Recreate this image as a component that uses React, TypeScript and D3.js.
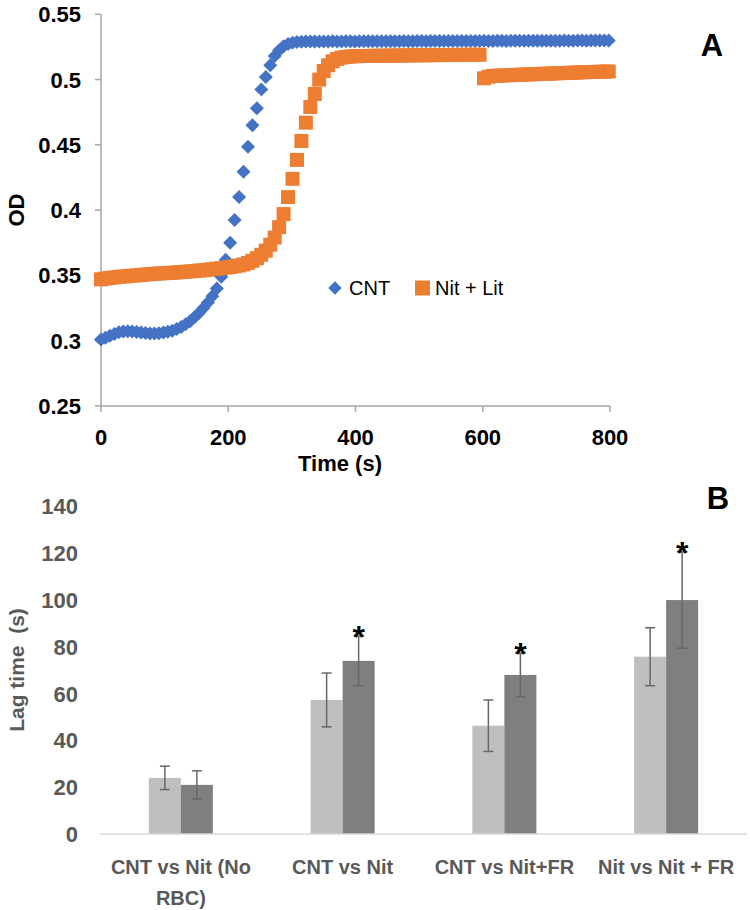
import React from "react";
import * as d3 from "d3";

// ---------- Panel A data ----------
const timeStep = 7;
const times: number[] = d3.range(0, 800, timeStep);
const cntOD: number[] = [
  0.3010, 0.3022, 0.3038, 0.3052, 0.3064, 0.3071, 0.3072, 0.3070, 0.3067, 0.3063,
  0.3059, 0.3056, 0.3056, 0.3058, 0.3062, 0.3068, 0.3077, 0.3090, 0.3106, 0.3126,
  0.3150, 0.3180, 0.3213, 0.3250, 0.3292, 0.3340, 0.3400, 0.3490, 0.3620, 0.3750,
  0.3925, 0.4100, 0.4295, 0.4485, 0.4650, 0.4780, 0.4925, 0.5020, 0.5110, 0.5180,
  0.5225, 0.5255, 0.5272, 0.5282, 0.5287, 0.5290, 0.5291, 0.5291, 0.5292, 0.5291,
  0.5292, 0.5292, 0.5293, 0.5292, 0.5292, 0.5293, 0.5293, 0.5292, 0.5293, 0.5293,
  0.5294, 0.5293, 0.5293, 0.5294, 0.5294, 0.5293, 0.5294, 0.5294, 0.5295, 0.5294,
  0.5294, 0.5295, 0.5295, 0.5294, 0.5295, 0.5295, 0.5295, 0.5296, 0.5295, 0.5295,
  0.5296, 0.5296, 0.5295, 0.5296, 0.5296, 0.5296, 0.5297, 0.5296, 0.5296, 0.5297,
  0.5297, 0.5296, 0.5297, 0.5297, 0.5297, 0.5298, 0.5297, 0.5297, 0.5298, 0.5298,
  0.5297, 0.5298, 0.5298, 0.5298, 0.5299, 0.5298, 0.5298, 0.5299, 0.5299, 0.5298,
  0.5299, 0.5299, 0.5300, 0.5299, 0.5300,
];
const nitLitOD: number[] = [
  0.3470, 0.3476, 0.3481, 0.3485, 0.3489, 0.3492, 0.3495, 0.3498, 0.3501, 0.3504,
  0.3507, 0.3510, 0.3512, 0.3515, 0.3517, 0.3519, 0.3521, 0.3523, 0.3526, 0.3528,
  0.3531, 0.3534, 0.3537, 0.3540, 0.3544, 0.3548, 0.3552, 0.3556, 0.3560, 0.3565,
  0.3570, 0.3576, 0.3584, 0.3596, 0.3612, 0.3632, 0.3658, 0.3690, 0.3735, 0.3790,
  0.3870, 0.3970, 0.4100, 0.4240, 0.4385, 0.4530, 0.4670, 0.4790, 0.4890, 0.5000,
  0.5065, 0.5110, 0.5140, 0.5158, 0.5168, 0.5174, 0.5177, 0.5179, 0.5180, 0.5181,
  0.5181, 0.5182, 0.5182, 0.5183, 0.5183, 0.5184, 0.5184, 0.5184, 0.5185, 0.5185,
  0.5186, 0.5186, 0.5186, 0.5187, 0.5187, 0.5187, 0.5188, 0.5188, 0.5188, 0.5189,
  0.5189, 0.5189, 0.5190, 0.5190, 0.5190, 0.5190,
  0.5010, 0.5022, 0.5028, 0.5030, 0.5031, 0.5033, 0.5034, 0.5036, 0.5037, 0.5038,
  0.5040, 0.5041, 0.5042, 0.5044, 0.5045, 0.5046, 0.5048, 0.5049, 0.5050, 0.5052,
  0.5053, 0.5054, 0.5056, 0.5057, 0.5058, 0.5059, 0.5060, 0.5061, 0.5062,
];
const odTicks: number[] = [0.25, 0.3, 0.35, 0.4, 0.45, 0.5, 0.55];
const timeTicks: number[] = [0, 200, 400, 600, 800];
const seriesNames: string[] = ["CNT", "Nit + Lit"];

// ---------- Panel B data ----------
const categories: string[] = ["CNT vs Nit (No RBC)", "CNT vs Nit", "CNT vs Nit+FR", "Nit vs Nit + FR"];
const categoryLines: string[][] = [["CNT vs Nit (No", "RBC)"], ["CNT vs Nit"], ["CNT vs Nit+FR"], ["Nit vs Nit + FR"]];
const lightValues: number[] = [24, 57.3, 46.3, 75.8];
const lightErrors: number[] = [5, 11.5, 11, 12.4];
const darkValues: number[] = [21, 74, 68, 100];
const darkErrors: number[] = [6, 10.6, 9.3, 20.6];
const significant: boolean[] = [false, true, true, true];
const lagTicks: number[] = [0, 20, 40, 60, 80, 100, 120, 140];

const FONT = "'Liberation Sans', Arial, sans-serif";
const BLUE = "#4472C4";
const ORANGE = "#ED7D31";

export default function App() {
  // Panel A scales
  const xA = d3.scaleLinear().domain([0, 800]).range([101, 610]);
  const yA = d3.scaleLinear().domain([0.25, 0.55]).range([406, 14.3]);
  const diamond = d3.symbol().type(d3.symbolSquare).size(98)();
  const square = d3.symbol().type(d3.symbolSquare).size(196)();
  const legendSquare = d3.symbol().type(d3.symbolSquare).size(225)();
  const legendDiamond = d3.symbol().type(d3.symbolSquare).size(90)();

  // Panel B scales
  const yB = d3.scaleLinear().domain([0, 140]).range([834, 506.5]);
  const x0 = d3.scaleBand<string>().domain(categories).range([100, 747]).padding(0);
  const groupW = x0.bandwidth() * 0.3957;
  const x1 = d3.scaleBand<string>().domain(["light", "dark"]).range([0, groupW]).padding(0);

  const axisGray = "#a6a6a6";

  const barSeries = [
    { key: "light", values: lightValues, errors: lightErrors, color: "#BFBFBF" },
    { key: "dark", values: darkValues, errors: darkErrors, color: "#7F7F7F" },
  ];

  return (
    <svg width={750} height={910} style={{ position: "absolute", left: 0, top: 0, background: "#fff" }} fontFamily={FONT}>
      <rect x={0} y={0} width={750} height={910} fill="#fff" />
      {/* ---------------- Panel A ---------------- */}
      <line x1={xA(0)} x2={xA(0)} y1={yA(0.55)} y2={yA(0.25)} stroke={axisGray} strokeWidth={1.5} />
      <line x1={xA(0)} x2={xA(800)} y1={yA(0.25)} y2={yA(0.25)} stroke={axisGray} strokeWidth={1.5} />
      {odTicks.map((t) => (
        <g key={"yt" + t}>
          <line x1={xA(0) - 6} x2={xA(0)} y1={yA(t)} y2={yA(t)} stroke={axisGray} strokeWidth={1.5} />
          <text x={81} y={yA(t)} dy="0.36em" textAnchor="end" fontSize={22} fontWeight="bold" fill="#000">
            {String(t)}
          </text>
        </g>
      ))}
      {timeTicks.map((t) => (
        <g key={"xt" + t}>
          <line x1={xA(t)} x2={xA(t)} y1={yA(0.25)} y2={yA(0.25) + 6} stroke={axisGray} strokeWidth={1.5} />
          <text x={xA(t)} y={445} textAnchor="middle" fontSize={22} fontWeight="bold" fill="#000">
            {String(t)}
          </text>
        </g>
      ))}
      <text x={340} y={471} textAnchor="middle" fontSize={22} fontWeight="bold" fill="#000">Time (s)</text>
      <text transform={`translate(24,210) rotate(-90)`} textAnchor="middle" fontSize={22} fontWeight="bold" fill="#000">OD</text>
      <text x={712} y={56} textAnchor="middle" fontSize={31} fontWeight="bold" fill="#000">A</text>

      {times.map((t, i) => (
        <path key={"c" + i} d={diamond} transform={`translate(${xA(t)},${yA(cntOD[i])}) rotate(45)`} fill={BLUE} />
      ))}
      {times.map((t, i) => (
        <path key={"n" + i} d={square} transform={`translate(${xA(t)},${yA(nitLitOD[i])})`} fill={ORANGE} />
      ))}

      {/* legend */}
      <path d={legendDiamond} transform="translate(335,288) rotate(45)" fill={BLUE} />
      <text x={349} y={295} fontSize={20} fill="#000">{seriesNames[0]}</text>
      <path d={legendSquare} transform="translate(422.5,288)" fill={ORANGE} />
      <text x={435} y={295} fontSize={20} fill="#000">{seriesNames[1]}</text>

      {/* ---------------- Panel B ---------------- */}
      <text x={718} y={509} textAnchor="middle" fontSize={31} fontWeight="bold" fill="#000">B</text>
      {lagTicks.map((t) => (
        <text key={"lt" + t} x={78} y={yB(t)} dy="0.36em" textAnchor="end" fontSize={22} fontWeight="bold" fill="#595959">
          {String(t)}
        </text>
      ))}
      <text transform={`translate(24,670) rotate(-90)`} textAnchor="middle" fontSize={21} fontWeight="bold" fill="#595959" style={{ whiteSpace: "pre" }}>
        {"Lag time  (s)"}
      </text>

      {categories.map((c, ci) => (
        <g key={"cat" + ci} transform={`translate(${x0(c)! + (x0.bandwidth() - groupW) / 2},0)`}>
          {barSeries.map((s) => {
            const bx = x1(s.key)!;
            const bw = x1.bandwidth();
            const v = s.values[ci];
            const e = s.errors[ci];
            const cx = bx + bw / 2;
            return (
              <g key={s.key}>
                <rect x={bx} y={yB(v)} width={bw} height={yB(0) - yB(v)} fill={s.color} />
                <line x1={cx} x2={cx} y1={yB(v + e)} y2={yB(v - e)} stroke="#666" strokeWidth={1.5} />
                <line x1={cx - 5} x2={cx + 5} y1={yB(v + e)} y2={yB(v + e)} stroke="#666" strokeWidth={1.5} />
                <line x1={cx - 5} x2={cx + 5} y1={yB(v - e)} y2={yB(v - e)} stroke="#666" strokeWidth={1.5} />
                {s.key === "dark" && significant[ci] ? (
                  <text x={cx} y={yB(v + e) + 12} textAnchor="middle" fontSize={32} fontWeight="bold" fill="#000">*</text>
                ) : null}
              </g>
            );
          })}
        </g>
      ))}
      <line x1={100} x2={747} y1={yB(0)} y2={yB(0)} stroke="#d9d9d9" strokeWidth={1.5} />
      {categories.map((c, ci) => (
        <text key={"cl" + ci} textAnchor="middle" fontSize={20} fontWeight="bold" fill="#595959">
          {categoryLines[ci].map((ln, li) => (
            <tspan key={li} x={x0(c)! + x0.bandwidth() / 2} y={874 + li * 31}>{ln}</tspan>
          ))}
        </text>
      ))}
    </svg>
  );
}
